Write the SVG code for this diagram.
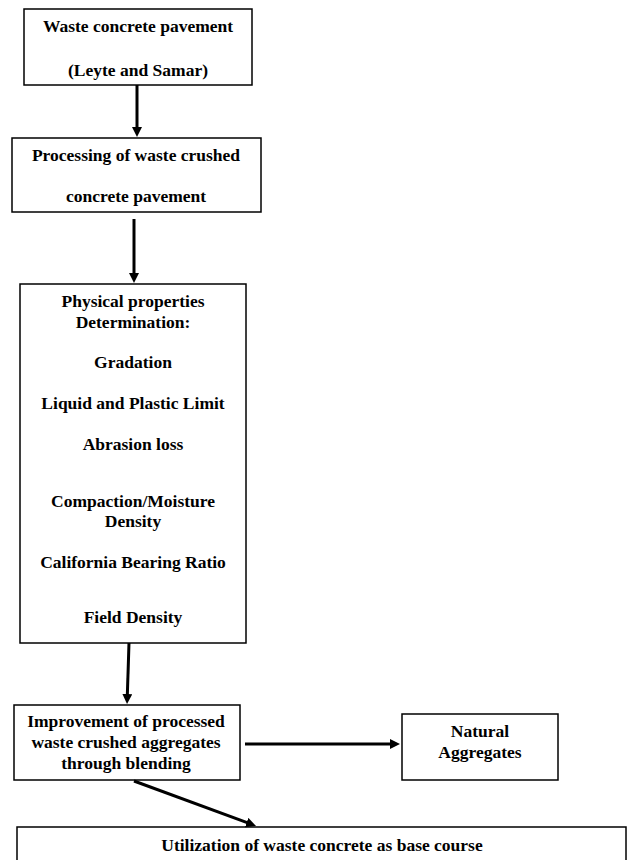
<svg xmlns="http://www.w3.org/2000/svg" width="628" height="860" viewBox="0 0 628 860">
<style>
.box{fill:#fff;stroke:#000;stroke-width:1.5}
.t{font-family:"Liberation Serif","Times New Roman",serif;font-weight:bold;font-size:17.5px;text-anchor:middle;fill:#000}
.c{stroke:#000;stroke-width:3;fill:none;marker-end:url(#ah)}
</style>
<defs>
<marker id="ah" markerUnits="userSpaceOnUse" markerWidth="11" markerHeight="11" refX="2" refY="5" orient="auto">
<path d="M0,0 L10,5 L0,10 z" fill="#000"/>
</marker>
</defs>
<rect width="628" height="860" fill="#fff"/>
<g id="n1">
<rect class="box" x="24" y="9" width="228" height="76"/>
<text class="t" x="138" y="32">Waste concrete pavement</text>
<text class="t" x="138" y="76">(Leyte and Samar)</text>
</g>
<g id="n2">
<rect class="box" x="12" y="138" width="249" height="74"/>
<text class="t" x="136" y="161">Processing of waste crushed</text>
<text class="t" x="136" y="202">concrete pavement</text>
</g>
<g id="n3">
<rect class="box" x="20" y="284" width="226" height="359"/>
<text class="t" x="133" y="307">Physical properties</text>
<text class="t" x="133" y="328">Determination:</text>
<text class="t" x="133" y="368">Gradation</text>
<text class="t" x="133" y="409">Liquid and Plastic Limit</text>
<text class="t" x="133" y="450">Abrasion loss</text>
<text class="t" x="133" y="507">Compaction/Moisture</text>
<text class="t" x="133" y="527">Density</text>
<text class="t" x="133" y="568">California Bearing Ratio</text>
<text class="t" x="133" y="623">Field Density</text>
</g>
<g id="n4">
<rect class="box" x="14" y="705" width="226" height="75"/>
<text class="t" x="126" y="727">Improvement of processed</text>
<text class="t" x="126" y="748">waste crushed aggregates</text>
<text class="t" x="126" y="769">through blending</text>
</g>
<g id="n5">
<rect class="box" x="402" y="714" width="156" height="66"/>
<text class="t" x="480" y="737">Natural</text>
<text class="t" x="480" y="758">Aggregates</text>
</g>
<g id="n6">
<rect class="box" x="17" y="827" width="609" height="45"/>
<text class="t" x="322" y="851">Utilization of waste concrete as base course</text>
</g>
<g id="connectors">
<path class="c" d="M137,85 L137,129"/>
<path class="c" d="M134,219 L134,275"/>
<path class="c" d="M129,643 L127.3,696"/>
<path class="c" d="M245,744 L392,744"/>
<path class="c" d="M134,781 L248.5,823.2"/>
</g>
</svg>
